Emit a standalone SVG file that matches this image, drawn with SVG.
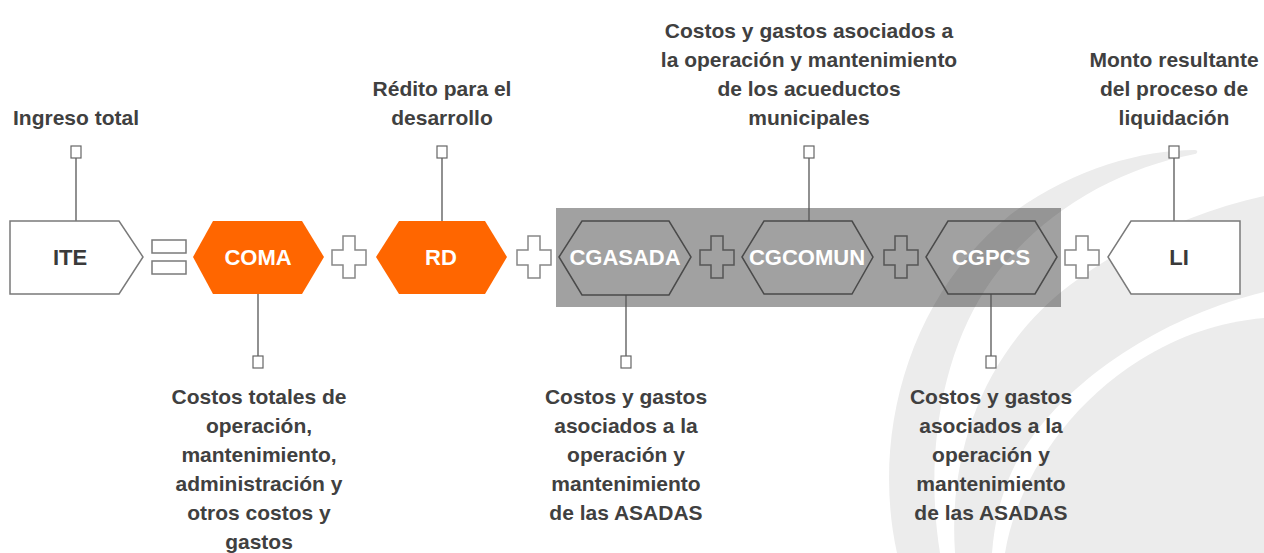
<svg xmlns="http://www.w3.org/2000/svg" width="1264" height="553" viewBox="0 0 1264 553">
<style>
.lbl{font-family:"Liberation Sans",Arial,sans-serif;font-weight:bold;font-size:21px;fill:#404040;text-anchor:middle}
.nl{font-family:"Liberation Sans",Arial,sans-serif;font-weight:bold;font-size:22px;text-anchor:middle}
.w{fill:#ffffff}
.d{fill:#3a3a3a}
.box{fill:#ffffff;stroke:#666;stroke-width:1.2}
.ln{stroke:#555;stroke-width:1.3;fill:none}
.wshape{fill:#ffffff;stroke:#7a7a7a;stroke-width:1.5}
.orange{fill:#ff6600}
.ghex{fill:none;stroke:#4a4a4a;stroke-width:1.5}
.wplus{fill:#ffffff;stroke:#888;stroke-width:1.5}
.gplus{fill:none;stroke:#555;stroke-width:1.5}
.band{fill:#ececec}
</style>
<defs>
<path id="plus" d="M11 0 h12 v14 h11 v15 h-11 v13 h-12 v-13 h-11 v-15 h11 z"/>
</defs>
<rect width="1264" height="553" fill="#ffffff"/>
<g id="background">
<path class="band" d="M 897 553 C 872 440, 905 300, 1010 215 C 1070 170, 1140 150, 1195 150 C 1198 150, 1198 153, 1195 154 C 1110 170, 1030 220, 985 290 C 940 360, 925 460, 940 553 Z"/>
<path class="band" d="M 955 553 C 948 450, 985 350, 1070 285 C 1130 240, 1200 210, 1264 196 L 1264 292 C 1170 315, 1080 370, 1030 440 C 1005 475, 995 515, 992 553 Z"/>
<path class="band" d="M 1005 553 C 1015 490, 1060 410, 1140 360 C 1180 335, 1220 322, 1264 318 L 1264 553 Z"/>
<rect x="556" y="208" width="505" height="99" fill="#000" fill-opacity="0.37"/>
</g>
<g id="connectors">
<line class="ln" x1="76" y1="158" x2="76" y2="221"/>
<rect class="box" x="71" y="146" width="10" height="12"/>
<line class="ln" x1="442" y1="158" x2="442" y2="221"/>
<rect class="box" x="437" y="146" width="10" height="12"/>
<line class="ln" x1="809" y1="158" x2="809" y2="221"/>
<rect class="box" x="804" y="146" width="10" height="12"/>
<line class="ln" x1="1174" y1="158" x2="1174" y2="221"/>
<rect class="box" x="1169" y="146" width="10" height="12"/>
<line class="ln" x1="258" y1="294" x2="258" y2="356"/>
<rect class="box" x="253" y="356" width="10" height="12"/>
<line class="ln" x1="626" y1="295" x2="626" y2="356"/>
<rect class="box" x="621" y="356" width="10" height="12"/>
<line class="ln" x1="991" y1="294" x2="991" y2="356"/>
<rect class="box" x="986" y="356" width="10" height="12"/>
</g>
<g id="operators">
<rect class="wshape" x="152" y="240" width="34" height="13"/>
<rect class="wshape" x="152" y="261" width="34" height="13"/>
<use href="#plus" x="332" y="236" class="wplus"/>
<use href="#plus" x="517" y="236" class="wplus"/>
<use href="#plus" x="700" y="236" class="gplus"/>
<use href="#plus" x="884" y="236" class="gplus"/>
<use href="#plus" x="1065" y="236" class="wplus"/>
</g>
<g id="node-ITE">
<polygon class="wshape" points="10,221 119,221 143,257 119,294 10,294"/>
<text class="nl d" x="70" y="265">ITE</text>
</g>
<g id="node-COMA">
<polygon class="orange" points="193,257 213,221 302,221 324,257 302,294 213,294"/>
<text class="nl w" x="258" y="265">COMA</text>
</g>
<g id="node-RD">
<polygon class="orange" points="376,257 399,221 485,221 507,257 485,294 399,294"/>
<text class="nl w" x="441" y="265">RD</text>
</g>
<g id="node-CGASADA">
<polygon class="ghex" points="559,257 582,221 669,221 691,257 669,295 582,295"/>
<text class="nl w" x="625" y="265">CGASADA</text>
</g>
<g id="node-CGCOMUN">
<polygon class="ghex" points="742,257 764,221 852,221 873,257 852,294 764,294"/>
<text class="nl w" x="807" y="265">CGCOMUN</text>
</g>
<g id="node-CGPCS">
<polygon class="ghex" points="926,257 948,221 1035,221 1057,257 1035,294 948,294"/>
<text class="nl w" x="991" y="265">CGPCS</text>
</g>
<g id="node-LI">
<polygon class="wshape" points="1108,257 1131,221 1240,221 1240,294 1131,294"/>
<text class="nl d" x="1179" y="265">LI</text>
</g>
<g id="labels">
<text class="lbl" x="76" y="125">Ingreso total</text>
<text class="lbl" x="442"><tspan x="442" y="96">Rédito para el</tspan><tspan x="442" y="125">desarrollo</tspan></text>
<text class="lbl" x="809"><tspan x="809" y="38">Costos y gastos asociados a</tspan><tspan x="809" y="67">la operación y mantenimiento</tspan><tspan x="809" y="96">de los acueductos</tspan><tspan x="809" y="125">municipales</tspan></text>
<text class="lbl" x="1174"><tspan x="1174" y="67">Monto resultante</tspan><tspan x="1174" y="96">del proceso de</tspan><tspan x="1174" y="125">liquidación</tspan></text>
<text class="lbl" x="259"><tspan x="259" y="404">Costos totales de</tspan><tspan x="259" y="433">operación,</tspan><tspan x="259" y="462">mantenimiento,</tspan><tspan x="259" y="491">administración y</tspan><tspan x="259" y="520">otros costos y</tspan><tspan x="259" y="549">gastos</tspan></text>
<text class="lbl" x="626"><tspan x="626" y="404">Costos y gastos</tspan><tspan x="626" y="433">asociados a la</tspan><tspan x="626" y="462">operación y</tspan><tspan x="626" y="491">mantenimiento</tspan><tspan x="626" y="520">de las ASADAS</tspan></text>
<text class="lbl" x="991"><tspan x="991" y="404">Costos y gastos</tspan><tspan x="991" y="433">asociados a la</tspan><tspan x="991" y="462">operación y</tspan><tspan x="991" y="491">mantenimiento</tspan><tspan x="991" y="520">de las ASADAS</tspan></text>
</g>
</svg>
